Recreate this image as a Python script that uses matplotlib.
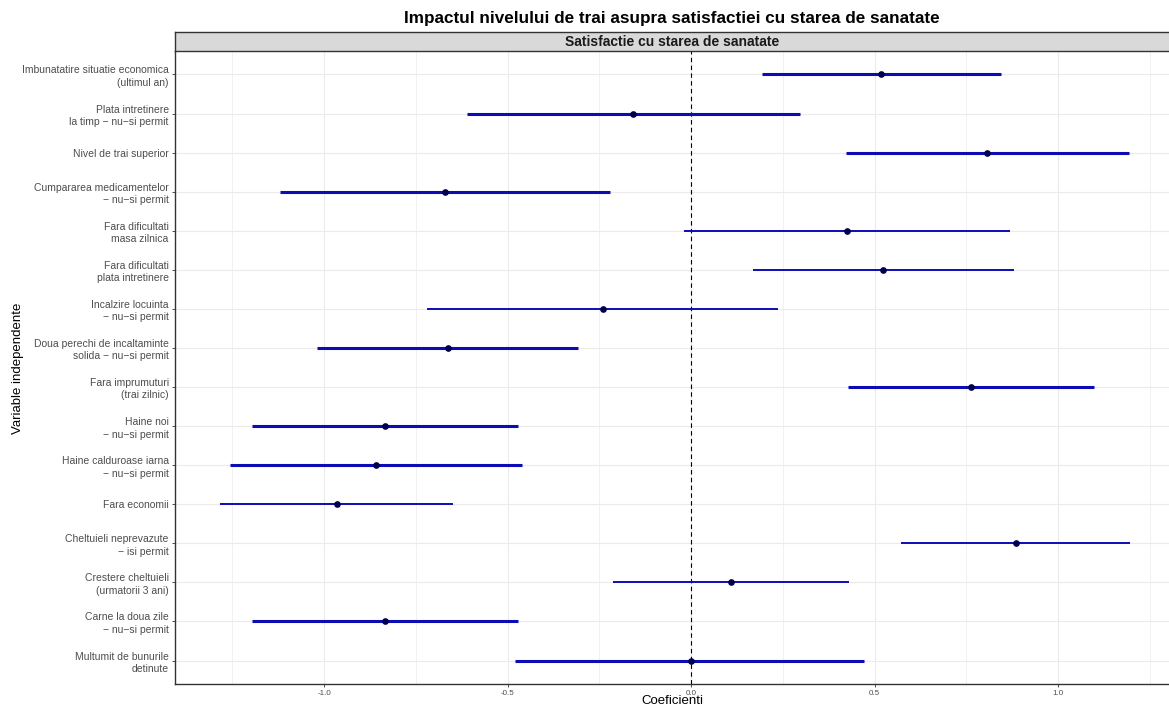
import numpy as np
import matplotlib
matplotlib.use("Agg")
from matplotlib import pyplot as plt
from matplotlib.patches import Rectangle

plt.rcParams['font.family'] = ['Liberation Sans', 'DejaVu Sans']

# data (top to bottom as in the chart)
variabile = [
    "Imbunatatire situatie economica\n(ultimul an)",
    "Plata intretinere\nla timp \u2212 nu\u2212si permit",
    "Nivel de trai superior",
    "Cumpararea medicamentelor\n\u2212 nu\u2212si permit",
    "Fara dificultati\nmasa zilnica",
    "Fara dificultati\nplata intretinere",
    "Incalzire locuinta\n\u2212 nu\u2212si permit",
    "Doua perechi de incaltaminte\nsolida \u2212 nu\u2212si permit",
    "Fara imprumuturi\n(trai zilnic)",
    "Haine noi\n\u2212 nu\u2212si permit",
    "Haine calduroase iarna\n\u2212 nu\u2212si permit",
    "Fara economii",
    "Cheltuieli neprevazute\n\u2212 isi permit",
    "Crestere cheltuieli\n(urmatorii 3 ani)",
    "Carne la doua zile\n\u2212 nu\u2212si permit",
    "Multumit de bunurile\ndetinute",
]
coef = [0.518, -0.158, 0.807, -0.670, 0.424, 0.524, -0.241, -0.663,
        0.763, -0.834, -0.858, -0.966, 0.884, 0.109, -0.834, 0.000]
ci_low = [0.193, -0.610, 0.423, -1.119, -0.020, 0.170, -0.719, -1.019,
          0.428, -1.196, -1.256, -1.283, 0.572, -0.213, -1.196, -0.480]
ci_high = [0.845, 0.297, 1.193, -0.221, 0.869, 0.879, 0.237, -0.308,
           1.098, -0.471, -0.460, -0.649, 1.196, 0.431, -0.471, 0.471]
# thicker interval lines for some rows
gros = [True, True, True, True, False, False, False, True,
        True, True, True, False, False, False, True, True]

xticks = [-1.0, -0.5, 0.0, 0.5, 1.0]
xticklabels = ["-1.0", "-0.5", "0.0", "0.5", "1.0"]

fig = plt.figure(figsize=(11.69, 7.08), dpi=100)
ax = fig.add_axes([175/1169, 24/708, 1 - 175/1169, (684-51)/708])

n = len(variabile)
ypos = np.arange(n)

# grid
ax.set_xlim(-1.406, 1.302)
ax.set_ylim(n - 0.4, -0.6)
for gx in np.arange(-1.25, 1.3, 0.25):
    ax.axvline(gx, color='#ebebeb', lw=0.8 if gx % 0.5 == 0 else 0.5, zorder=0)
for gy in ypos:
    ax.axhline(gy, color='#ebebeb', lw=0.8, zorder=0)

ax.axvline(0, color='black', lw=0.8, ls=(0, (4, 3)), zorder=1)

for i in range(n):
    ax.plot([ci_low[i], ci_high[i]], [ypos[i], ypos[i]],
            color='#0c0cb4', lw=2.2 if gros[i] else 1.4,
            solid_capstyle='butt', zorder=2)
ax.plot(coef, ypos, 'o', color='#00004d', markersize=3.8, zorder=3)

ax.set_yticks(ypos)
ax.set_yticklabels(variabile, fontsize=7.5, color='#4d4d4d', linespacing=1.3)
ax.set_xticks(xticks)
ax.set_xticklabels(xticklabels, fontsize=5.8, color='#4d4d4d')
ax.tick_params(axis='both', length=2.5, width=0.6, color='#333333', pad=2)
ax.tick_params(axis='x', pad=1.5)

for s in ['top', 'right']:
    ax.spines[s].set_visible(False)
for s in ['left', 'bottom']:
    ax.spines[s].set_color('#333333')
    ax.spines[s].set_linewidth(1.0)

# axis titles placed in figure coordinates
fig.text((175 + 1169) / 2 / 1169, 1.5/708, "Coeficienti",
         ha='center', va='bottom', fontsize=9.5)
fig.text(18/1169, 1 - 368/708, "Variable independente", rotation=90,
         ha='center', va='center', fontsize=9.5)

# facet strip
strip = fig.add_axes([175/1169, (708-51)/708, 1 - 175/1169, 19/708])
strip.set_xlim(0, 1)
strip.set_ylim(0, 1)
strip.add_patch(Rectangle((0, 0), 1, 1, facecolor='#d9d9d9', edgecolor='none'))
strip.set_xticks([])
strip.set_yticks([])
for s in ['top', 'bottom', 'left']:
    strip.spines[s].set_color('#333333')
    strip.spines[s].set_linewidth(1.0)
strip.spines['right'].set_visible(False)
strip.text(0.5, 0.5, "Satisfactie cu starea de sanatate", ha='center', va='center',
           fontsize=10, fontweight='bold', color='#1a1a1a')

fig.text((175 + 1169) / 2 / 1169, 1 - 18/708,
         "Impactul nivelului de trai asupra satisfactiei cu starea de sanatate",
         ha='center', va='center', fontsize=12.3, fontweight='bold')

fig.savefig("out.png", dpi=100)
